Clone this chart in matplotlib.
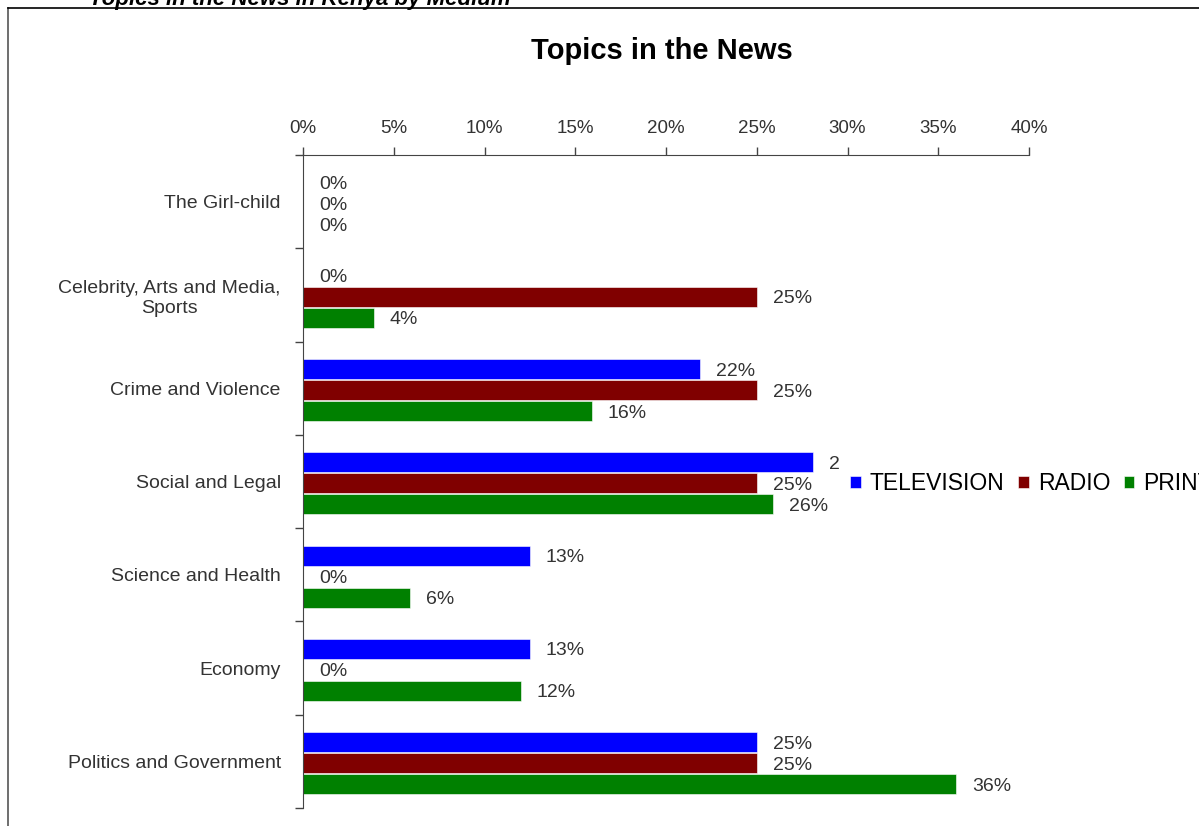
import numpy as np
import matplotlib.pyplot as plt
from matplotlib.patches import Rectangle
from matplotlib.ticker import MultipleLocator, FuncFormatter

plt.rcParams['font.family'] = ['Liberation Sans', 'DejaVu Sans']

topics = ['The Girl-child', 'Celebrity, Arts and Media,\nSports', 'Crime and Violence',
          'Social and Legal', 'Science and Health', 'Economy', 'Politics and Government']
television = [0, 0, 21.9, 28.1, 12.5, 12.5, 25]
radio = [0, 25, 25, 25, 0, 0, 25]
print_media = [0, 3.9, 15.9, 25.9, 5.9, 12, 36]

series = [('TELEVISION', television, '#0000FF', -0.225),
          ('RADIO', radio, '#800000', 0.0),
          ('PRINT', print_media, '#008000', 0.225)]

W, H = 1199, 826
fig = plt.figure(figsize=(W / 100, H / 100), dpi=100)
ax = fig.add_axes([303 / W, 1 - 808 / H, 726 / W, 653 / H])

y = np.arange(len(topics))
for name, vals, col, off in series:
    ax.barh(y + off + 0.02, vals, height=0.215, color=col, edgecolor='white', linewidth=0.4,
            label=name, zorder=2)
    for yi, v in zip(y, vals):
        ax.annotate('%d%%' % int(v + 0.5), (v, yi + off + 0.02), xytext=(16, -2),
                    textcoords='offset pixels', va='center', ha='left',
                    fontsize=14, color='#333333', zorder=3)

ax.set_xlim(0, 40)
ax.set_ylim(len(topics) - 0.5, -0.5)

# percentage scale along the top
ax.xaxis.tick_top()
ax.xaxis.set_major_locator(MultipleLocator(5))
ax.xaxis.set_major_formatter(FuncFormatter(lambda v, p: '%d%%' % v))
ax.tick_params(axis='x', direction='out', length=6, width=1, pad=7,
               labelsize=13.5, labelcolor='#333333', color='#444444')

# group boundaries get the tick marks, names sit between them
ax.set_yticks(y)
ax.set_yticklabels(topics, multialignment='center')
ax.set_yticks(np.arange(len(topics) + 1) - 0.5, minor=True)
ax.tick_params(axis='y', which='major', length=0, pad=16, labelsize=14, labelcolor='#333333')
ax.tick_params(axis='y', which='minor', direction='out', length=6, width=1, color='#444444')

for s in ['right', 'bottom']:
    ax.spines[s].set_visible(False)
ax.spines['top'].set_color('#444444')
ax.spines['left'].set_color('#444444')

fig.text(662 / W, 1 - 51 / H, 'Topics in the News', ha='center', va='center',
         fontsize=21, fontweight='bold', color='black')

# heading above the frame, partly clipped by the page edge
fig.text(300 / W, 1 + 1 / H, 'Topics in the News in Kenya by Medium', ha='center',
         va='center', fontsize=16, fontweight='bold', style='italic', color='black')

# outer frame
fig.add_artist(plt.Line2D([8 / W, 8 / W], [0, 1 - 8 / H], color='#555555', lw=1.2,
                          transform=fig.transFigure))
fig.add_artist(plt.Line2D([8 / W, 1], [1 - 8 / H, 1 - 8 / H], color='black', lw=1.2,
                          transform=fig.transFigure))

# legend area is opaque and sits over the plot labels
fig.add_artist(Rectangle((840 / W, 1 - 512 / H), (W - 840) / W, 62 / H,
                         transform=fig.transFigure, facecolor='white', edgecolor='none',
                         zorder=5))
leg = fig.legend(loc='center left', bbox_to_anchor=(840 / W, 1 - 484 / H), ncol=3,
                 frameon=False, fontsize=16.5, handlelength=0.45, handleheight=0.45,
                 handletextpad=0.4, columnspacing=0.6, borderpad=0.45, borderaxespad=0)
leg.set_zorder(10)

fig.savefig('out.png', dpi=100)
